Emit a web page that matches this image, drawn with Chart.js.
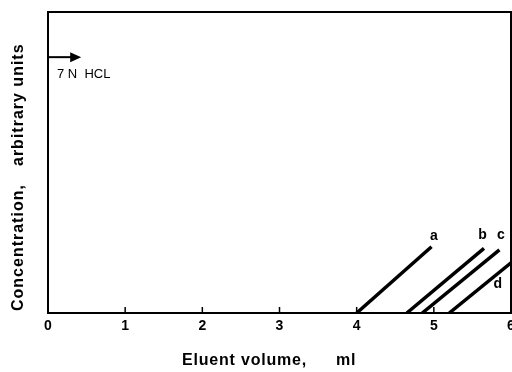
<!DOCTYPE html>
<html>
<head>
<meta charset="utf-8">
<script src="https://cdn.jsdelivr.net/npm/chart.js@4"></script>
<style>
  html, body { margin: 0; padding: 0; background: #fff; }
  #wrap { width: 512px; height: 372px; }
</style>
</head>
<body>
<div id="wrap"><canvas id="chart"></canvas></div>
<script>
// ── Data ────────────────────────────────────────────────────────────────
const X_TICKS = [0, 1, 2, 3, 4, 5, 6];
const CURVE_NAMES = ["a", "b", "c", "d"];
const CURVE_X = [[4.0, 4.97], [4.65, 5.65], [4.85, 5.85], [5.2, 6.0]];
const CURVE_Y = [[0, 22], [0, 21.5], [0, 21], [0, 16.7]];
const LABEL_X = [5.0, 5.63, 5.87, 5.83];
const LABEL_Y = [25.5, 26, 26, 9.7];
const ARROW_X = [0, 0.43];
const ARROW_Y = 85;
const ARROW_TEXT = "7 N  HCL";
const Y_TITLE = ["Concentration,", "arbitrary units"];
const X_TITLE = ["Eluent volume,", "ml"];

const INK  = "#000";
const FONT = "'Liberation Sans', Arial, sans-serif";

const datasets = CURVE_NAMES.map((name, i) => ({
  label: name,
  data: CURVE_X[i].map((x, j) => ({ x, y: CURVE_Y[i][j] })),
  showLine: true,
  borderColor: INK,
  borderWidth: 3.5,
  pointRadius: 0,
  borderCapStyle: "butt",
}));

// frame, inner ticks, curve letters, arrow, axis titles
const decorations = {
  id: "decorations",
  afterDraw(chart) {
    const { ctx, chartArea: a, scales: { x, y } } = chart;
    ctx.save();
    ctx.strokeStyle = INK;
    ctx.lineWidth = 2;
    ctx.strokeRect(a.left, a.top, a.right - a.left, a.bottom - a.top);

    ctx.lineWidth = 1.5;
    X_TICKS.slice(1, -1).forEach(v => {
      const px = x.getPixelForValue(v);
      ctx.beginPath();
      ctx.moveTo(px, a.bottom + 1);
      ctx.lineTo(px, a.bottom - 6);
      ctx.stroke();
    });

    ctx.fillStyle = INK;
    ctx.font = "bold 14px " + FONT;
    ctx.textAlign = "center";
    ctx.textBaseline = "middle";
    CURVE_NAMES.forEach((n, i) => {
      ctx.fillText(n, x.getPixelForValue(LABEL_X[i]), y.getPixelForValue(LABEL_Y[i]));
    });

    // arrow
    const ay = y.getPixelForValue(ARROW_Y);
    const x0 = x.getPixelForValue(ARROW_X[0]);
    const x1 = x.getPixelForValue(ARROW_X[1]);
    ctx.lineWidth = 2;
    ctx.beginPath();
    ctx.moveTo(x0, ay);
    ctx.lineTo(x1 - 6, ay);
    ctx.stroke();
    ctx.beginPath();
    ctx.moveTo(x1, ay);
    ctx.lineTo(x1 - 11, ay - 5);
    ctx.lineTo(x1 - 11, ay + 5);
    ctx.closePath();
    ctx.fill();

    ctx.font = "13px " + FONT;
    ctx.textAlign = "left";
    ctx.fillText(ARROW_TEXT, x0 + 9, ay + 17);

    // x title
    ctx.font = "bold 16px " + FONT;
    ctx.letterSpacing = "0.8px";
    ctx.fillText(X_TITLE[0], 182, 361);
    ctx.fillText(X_TITLE[1], 336, 361);

    // y title, two word groups with a wide gap
    ctx.letterSpacing = "1px";
    ctx.translate(19, 0);
    ctx.rotate(-Math.PI / 2);
    ctx.fillText(Y_TITLE[0], -311, 0);
    ctx.fillText(Y_TITLE[1], -166, 0);
    ctx.restore();
  },
};

new Chart(document.getElementById("chart"), {
  type: "scatter",
  data: { datasets },
  plugins: [decorations],
  options: {
    responsive: true,
    maintainAspectRatio: false,
    animation: false,
    layout: { padding: { top: 12, right: 1, left: 0, bottom: 0 } },
    plugins: { legend: { display: false }, tooltip: { enabled: false } },
    scales: {
      x: {
        type: "linear",
        min: 0,
        max: 6,
        afterFit: s => { s.height = 59; s.paddingRight = 0; s.paddingLeft = 0; },
        afterBuildTicks: s => { s.ticks = X_TICKS.map(v => ({ value: v })); },
        grid: { display: false, drawTicks: false },
        border: { display: true, color: INK, width: 2 },
        ticks: {
          color: INK,
          padding: 5,
          font: { family: FONT, size: 14, weight: "bold" },
        },
        title: { display: false },
      },
      y: {
        type: "linear",
        min: 0,
        max: 100,
        afterFit: s => { s.width = 48; },
        grid: { display: false, drawTicks: false },
        border: { display: true, color: INK, width: 2 },
        ticks: { display: false },
        title: { display: false },
      },
    },
  },
});
</script>
</body>
</html>
